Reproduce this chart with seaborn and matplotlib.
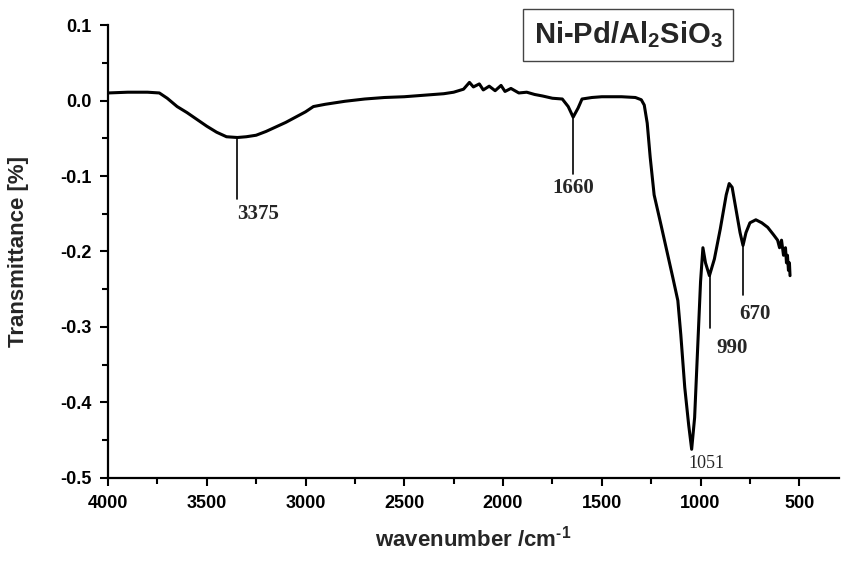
import matplotlib
matplotlib.use("Agg")
import matplotlib.pyplot as plt
import seaborn as sns
import pandas as pd
from matplotlib.ticker import MultipleLocator

# ---- data ----
wavenumber = [4000, 3900, 3800, 3740, 3700, 3650, 3600, 3550, 3500, 3450, 3400, 3345,
              3300, 3250, 3200, 3150, 3100, 3050, 3000, 2960, 2900, 2800, 2700, 2600,
              2500, 2400, 2300, 2250, 2200, 2170, 2150, 2120, 2100, 2070, 2040, 2010,
              1990, 1960, 1920, 1880, 1840, 1800, 1750, 1700, 1670, 1645, 1620, 1600,
              1550, 1500, 1400, 1330, 1300, 1285, 1270, 1255, 1235, 1200, 1170, 1140,
              1115, 1100, 1080, 1060, 1045, 1030, 1015, 1000, 988, 975, 955, 930, 900,
              870, 855, 840, 820, 800, 785, 770, 750, 720, 690, 660, 630, 610, 600, 590,
              580, 570, 565, 560, 555, 550, 547]
transmittance = [0.010, 0.011, 0.011, 0.010, 0.003, -0.008, -0.016, -0.025, -0.034, -0.042,
                 -0.048, -0.049, -0.048, -0.046, -0.041, -0.035, -0.029, -0.022, -0.015,
                 -0.008, -0.005, -0.001, 0.002, 0.004, 0.005, 0.007, 0.009, 0.011, 0.015,
                 0.024, 0.018, 0.022, 0.014, 0.019, 0.013, 0.020, 0.012, 0.016, 0.010,
                 0.011, 0.008, 0.006, 0.003, 0.002, -0.008, -0.022, -0.010, 0.002, 0.004,
                 0.005, 0.005, 0.004, 0.001, -0.006, -0.030, -0.075, -0.125, -0.165,
                 -0.200, -0.235, -0.265, -0.310, -0.380, -0.430, -0.462, -0.420, -0.330,
                 -0.240, -0.195, -0.215, -0.232, -0.210, -0.170, -0.125, -0.110, -0.115,
                 -0.145, -0.175, -0.192, -0.175, -0.162, -0.158, -0.162, -0.168, -0.178,
                 -0.185, -0.195, -0.185, -0.205, -0.195, -0.215, -0.205, -0.225, -0.215,
                 -0.232]

peak_labels = ["3375", "1660", "1051", "990", "670"]
peak_pos = [3345, 1645, 1063, 952, 785]
peak_top = [-0.049, -0.022, None, -0.231, -0.192]
peak_bottom = [-0.130, -0.097, None, -0.301, -0.258]

x_ticks = [4000, 3500, 3000, 2500, 2000, 1500, 1000, 500]
y_ticks = [0.1, 0.0, -0.1, -0.2, -0.3, -0.4, -0.5]

df = pd.DataFrame({"wavenumber": wavenumber, "transmittance": transmittance})

sns.set_theme(style="ticks")
plt.rcParams["font.family"] = ["Liberation Sans", "DejaVu Sans"]
plt.rcParams["mathtext.fontset"] = "custom"
plt.rcParams["mathtext.rm"] = "Liberation Sans:bold"
plt.rcParams["mathtext.bf"] = "Liberation Sans:bold"
plt.rcParams["mathtext.it"] = "Liberation Sans:bold:italic"

fig = plt.figure(figsize=(8.41, 5.61), dpi=100)
ax = fig.add_axes([0.1284, 0.148, 0.869, 0.8074])

sns.lineplot(data=df, x="wavenumber", y="transmittance", ax=ax, color="black",
             linewidth=2.2, sort=False, estimator=None)

ax.set_xlim(4000, 300)
ax.set_ylim(-0.5, 0.1)
ax.set_xticks(x_ticks)
ax.set_yticks(y_ticks)
ax.xaxis.set_minor_locator(MultipleLocator(250))
ax.yaxis.set_minor_locator(MultipleLocator(0.05))
ax.set_xticklabels([str(t) for t in x_ticks])
ax.set_yticklabels(["%.1f" % t for t in y_ticks])

for lab in ax.get_xticklabels() + ax.get_yticklabels():
    lab.set_fontweight("bold")
    lab.set_fontsize(13)
    lab.set_color("black")

ax.tick_params(which="major", direction="out", length=6, width=1.5, color="black", pad=6)
ax.tick_params(which="minor", direction="out", length=4, width=1.5, color="black")
sns.despine(ax=ax)
for s in ["left", "bottom"]:
    ax.spines[s].set_linewidth(1.6)
    ax.spines[s].set_color("black")

ax.set_xlabel("wavenumber /cm$^{\\mathrm{\u2010}1}$", fontsize=16, fontweight="bold", labelpad=10)
ax.set_ylabel("Transmittance [%]", fontsize=16, fontweight="bold", labelpad=22)

serif = ["Liberation Serif", "DejaVu Serif"]
for lab, x, yt, yb in zip(peak_labels, peak_pos, peak_top, peak_bottom):
    if yt is not None:
        ax.plot([x, x], [yt, yb], color="black", linewidth=1.2)
    if lab == "3375":
        ax.text(x, yb - 0.007, lab, ha="left", va="top", family=serif,
                fontsize=15, fontweight="bold")
    elif lab == "1660":
        ax.text(x, yb - 0.005, lab, ha="center", va="top", family=serif,
                fontsize=15, fontweight="bold")
    elif lab == "1051":
        ax.text(x, -0.481, lab, ha="left", va="center", family=serif, fontsize=13)
    elif lab == "990":
        ax.text(x - 30, yb - 0.014, lab, ha="left", va="top", family=serif,
                fontsize=15, fontweight="bold")
    elif lab == "670":
        ax.text(x + 20, yb - 0.011, lab, ha="left", va="top", family=serif,
                fontsize=15, fontweight="bold")

fig.text(628 / 841, 1 - 35 / 561, r"Ni-Pd/Al$_\mathrm{2}$SiO$_\mathrm{3}$",
         ha="center", va="center", fontsize=21, fontweight="bold",
         bbox=dict(boxstyle="square,pad=0.35", facecolor="white",
                   edgecolor="#444444", linewidth=1.0))

fig.savefig("out.png", dpi=100)
